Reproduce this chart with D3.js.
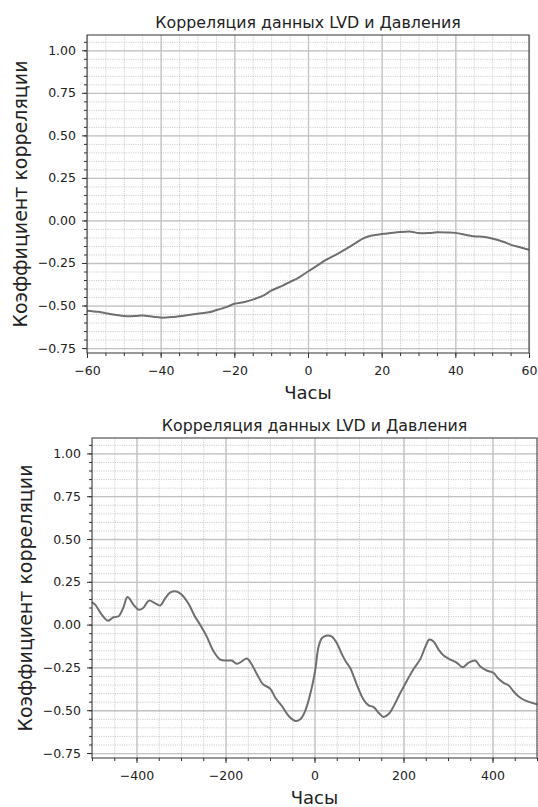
<!DOCTYPE html>
<html>
<head>
<meta charset="utf-8">
<script src="https://cdn.jsdelivr.net/npm/d3@7"></script>
<style>
  body { margin: 0; background: #fff; }
  text { font-family: "DejaVu Sans", sans-serif; fill: #222; }
</style>
</head>
<body>
<script>
const d3 = window.d3;
const W = 538, H = 807;

// hours of lag, upper panel (-60..60)
const hoursTop = [-60, -57, -55, -52, -50, -47, -45, -42, -40, -37, -35, -32, -30, -27, -25, -22, -20, -17, -15, -12, -10, -7, -5, -3, 0, 3, 5, 8, 10, 13, 15, 17, 20, 23, 25, 28, 30, 33, 35, 38, 40, 43, 45, 48, 50, 53, 55, 58, 60];
const corrTop = [-0.53, -0.537, -0.545, -0.555, -0.561, -0.562, -0.558, -0.566, -0.571, -0.568, -0.563, -0.554, -0.548, -0.54, -0.528, -0.508, -0.49, -0.478, -0.465, -0.44, -0.413, -0.384, -0.362, -0.342, -0.3, -0.258, -0.23, -0.196, -0.172, -0.132, -0.105, -0.09, -0.08, -0.072, -0.068, -0.066, -0.074, -0.073, -0.07, -0.071, -0.073, -0.085, -0.093, -0.097, -0.106, -0.125, -0.142, -0.16, -0.172];

// hours of lag, lower panel (-500..500)
const hoursBottom = [-500, -493, -479, -464, -452, -440, -430, -420, -407, -395, -385, -372, -359, -347, -335, -323, -310, -300, -284, -269, -256, -242, -227, -212, -197, -186, -174, -163, -152, -141, -129, -115, -100, -88, -73, -58, -43, -32, -21, -10, -3, 2, 9, 17, 28, 39, 50, 62, 71, 80, 95, 110, 121, 133, 144, 155, 166, 178, 193, 208, 222, 238, 249, 258, 267, 279, 290, 305, 320, 333, 346, 361, 372, 387, 402, 413, 425, 436, 447, 458, 473, 488, 500];
const corrBottom = [0.13, 0.117, 0.062, 0.023, 0.043, 0.049, 0.097, 0.161, 0.117, 0.087, 0.097, 0.14, 0.126, 0.112, 0.156, 0.19, 0.194, 0.179, 0.126, 0.049, -0.005, -0.07, -0.155, -0.204, -0.21, -0.21, -0.229, -0.214, -0.198, -0.233, -0.291, -0.35, -0.373, -0.427, -0.476, -0.534, -0.563, -0.553, -0.505, -0.41, -0.33, -0.26, -0.13, -0.078, -0.064, -0.07, -0.107, -0.175, -0.218, -0.252, -0.35, -0.437, -0.47, -0.482, -0.515, -0.54, -0.524, -0.476, -0.398, -0.326, -0.262, -0.2, -0.13, -0.087, -0.097, -0.146, -0.181, -0.204, -0.223, -0.249, -0.223, -0.21, -0.243, -0.268, -0.281, -0.315, -0.34, -0.354, -0.389, -0.418, -0.443, -0.456, -0.466];

const title = "Корреляция данных LVD и Давления";
const xLabel = "Часы";
const yLabel = "Коэффициент корреляции";
const yDomain = [-0.779, 1.09];
const yMajor = d3.range(-3, 5).map(i => i * 0.25);
const yMinor = d3.range(-15, 22).map(i => i * 0.05);

const svg = d3.select("body").append("svg")
    .attr("width", W)
    .attr("height", H);

// multiples of step inside the domain
function stepTicks(domain, step) {
    const out = [];
    for (let v = Math.ceil(domain[0] / step) * step; v <= domain[1]; v += step) out.push(v);
    return out;
}

let clipCount = 0;
function panel(p) {
    const width = p.right - p.left;
    const height = p.bottom - p.top;
    const g = svg.append("g").attr("transform", `translate(${p.left},${p.top})`);

    const x = d3.scaleLinear().domain(p.xDomain).range([0, width]);
    const y = d3.scaleLinear().domain(yDomain).range([height, 0]);

    const xMajor = stepTicks(p.xDomain, p.xMajorStep);
    const xMinor = stepTicks(p.xDomain, p.xMinorStep);

    // minor grid, dotted
    g.append("g").attr("class", "grid-minor")
        .call(d3.axisLeft(y).tickValues(yMinor).tickSize(-width).tickFormat(""));
    g.append("g").attr("class", "grid-minor")
        .attr("transform", `translate(0,${height})`)
        .call(d3.axisBottom(x).tickValues(xMinor).tickSize(-height).tickFormat(""));
    g.selectAll(".grid-minor line")
        .attr("stroke", "#b8b8b8")
        .attr("stroke-width", 0.8)
        .attr("stroke-dasharray", "1,1.3");

    // major grid, solid
    g.append("g").attr("class", "grid-major")
        .call(d3.axisLeft(y).tickValues(yMajor).tickSize(-width).tickFormat(""));
    g.append("g").attr("class", "grid-major")
        .attr("transform", `translate(0,${height})`)
        .call(d3.axisBottom(x).tickValues(xMajor).tickSize(-height).tickFormat(""));
    g.selectAll(".grid-major line")
        .attr("stroke", "#c2c2c2")
        .attr("stroke-width", 1.3);
    g.selectAll(".grid-minor .domain, .grid-major .domain").remove();

    // the series
    const clipId = "clip-" + clipCount++;
    g.append("clipPath").attr("id", clipId)
        .append("rect").attr("width", width).attr("height", height);
    const line = d3.line()
        .x((d, i) => x(p.hours[i]))
        .y(d => y(d))
        .curve(d3.curveCatmullRom.alpha(0.5));
    g.append("path")
        .datum(p.corr)
        .attr("clip-path", `url(#${clipId})`)
        .attr("fill", "none")
        .attr("stroke", "#6f6f6f")
        .attr("stroke-width", 2)
        .attr("stroke-linejoin", "round")
        .attr("d", line);

    // minor ticks
    g.append("g").attr("class", "ticks-minor")
        .call(d3.axisLeft(y).tickValues(yMinor).tickSize(3).tickFormat(""));
    g.append("g").attr("class", "ticks-minor")
        .attr("transform", `translate(0,${height})`)
        .call(d3.axisBottom(x).tickValues(xMinor).tickSize(3).tickFormat(""));

    // major ticks + labels
    g.append("g").attr("class", "ticks-major")
        .call(d3.axisLeft(y).tickValues(yMajor).tickSize(5).tickPadding(6).tickFormat(d3.format(".2f")));
    g.append("g").attr("class", "ticks-major")
        .attr("transform", `translate(0,${height})`)
        .call(d3.axisBottom(x).tickValues(xMajor).tickSize(5).tickPadding(8).tickFormat(d3.format("d")));
    g.selectAll(".ticks-minor line, .ticks-major line").attr("stroke", "#333");
    g.selectAll(".ticks-minor .domain, .ticks-major .domain").remove();
    g.selectAll(".ticks-major text")
        .attr("fill", "#222")
        .style("font-family", "'DejaVu Sans', sans-serif")
        .style("font-size", "12.5px");

    // frame
    g.append("rect")
        .attr("width", width)
        .attr("height", height)
        .attr("fill", "none")
        .attr("stroke", "#333")
        .attr("stroke-width", 1);

    g.append("text")
        .attr("x", width / 2)
        .attr("y", -7)
        .attr("text-anchor", "middle")
        .style("font-size", "15.8px")
        .text(title);
    g.append("text")
        .attr("x", width / 2)
        .attr("y", height + 46)
        .attr("text-anchor", "middle")
        .style("font-size", "18px")
        .text(xLabel);
    g.append("text")
        .attr("transform", `translate(-60,${height / 2}) rotate(-90)`)
        .attr("text-anchor", "middle")
        .style("font-size", "19px")
        .text(yLabel);
}

panel({left: 87, top: 35, right: 529, bottom: 353,
       xDomain: [-60, 60], xMajorStep: 20, xMinorStep: 5,
       hours: hoursTop, corr: corrTop});
panel({left: 92, top: 438, right: 537, bottom: 758,
       xDomain: [-500, 500], xMajorStep: 200, xMinorStep: 50,
       hours: hoursBottom, corr: corrBottom});
</script>
</body>
</html>
